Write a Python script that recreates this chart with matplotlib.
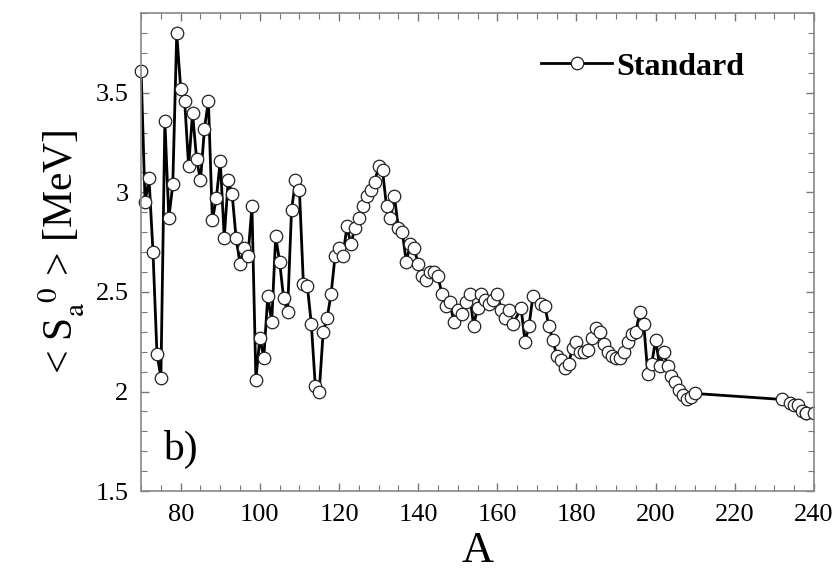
import numpy as np
import matplotlib
matplotlib.use("Agg")
import matplotlib.pyplot as plt
from matplotlib.ticker import MultipleLocator

plt.rcParams['font.family'] = ['Liberation Serif', 'DejaVu Serif']
plt.rcParams['mathtext.fontset'] = 'stix'

# mass number A and average alpha separation energy <S_a^0> (MeV)
mass_a = [70, 71, 72, 73, 74, 75, 76, 77, 78, 79,
          80, 81, 82, 83, 84, 85, 86, 87, 88, 89,
          90, 91, 92, 93, 94, 95, 96, 97, 98, 99,
          100, 101, 102, 103, 104, 105, 106, 107, 108, 109,
          110, 111, 112, 113, 114, 115, 116, 117, 118, 119,
          120, 121, 122, 123, 124, 125, 126, 127, 128, 129,
          130, 131, 132, 133, 134, 135, 136, 137, 138, 139,
          140, 141, 142, 143, 144, 145, 146, 147, 148, 149,
          150, 151, 152, 153, 154, 155, 156, 157, 158, 159,
          160, 161, 162, 163, 164, 166, 167, 168, 169,
          171, 172, 173, 174, 175, 176, 177, 178, 179,
          180, 181, 182, 183, 184, 185, 186, 187, 188, 189,
          190, 191, 192, 193, 194, 195, 196, 197, 198, 199,
          200, 201, 202, 203, 204, 205, 206, 207, 208, 209,
          210, 232, 234, 235, 236, 237, 238, 240]
s_alpha = [3.61, 2.95, 3.07, 2.70, 2.19, 2.07, 3.36, 2.87, 3.04, 3.80,
           3.52, 3.46, 3.13, 3.40, 3.17, 3.06, 3.32, 3.46, 2.86, 2.97,
           3.16, 2.77, 3.06, 2.99, 2.77, 2.64, 2.72, 2.68, 2.93, 2.06,
           2.27, 2.17, 2.48, 2.35, 2.78, 2.65, 2.47, 2.40, 2.91, 3.06,
           3.01, 2.54, 2.53, 2.34, 2.03, 2.00, 2.30, 2.37, 2.49, 2.68,
           2.72, 2.68, 2.83, 2.74, 2.82, 2.87, 2.93, 2.98, 3.01, 3.05,
           3.13, 3.11, 2.93, 2.87, 2.98, 2.82, 2.80, 2.65, 2.74, 2.72,
           2.64, 2.58, 2.56, 2.60, 2.60, 2.58, 2.49, 2.43, 2.45, 2.35,
           2.41, 2.39, 2.45, 2.49, 2.33, 2.42, 2.49, 2.46, 2.44, 2.46,
           2.49, 2.41, 2.37, 2.41, 2.34, 2.42, 2.25, 2.33, 2.48,
           2.44, 2.43, 2.33, 2.26, 2.18, 2.16, 2.12, 2.14, 2.22,
           2.25, 2.20, 2.20, 2.21, 2.27, 2.32, 2.30, 2.24, 2.20, 2.18,
           2.17, 2.17, 2.20, 2.25, 2.29, 2.30, 2.40, 2.34, 2.09, 2.14,
           2.26, 2.13, 2.20, 2.13, 2.08, 2.05, 2.01, 1.98, 1.96, 1.97,
           1.99, 1.96, 1.94, 1.93, 1.93, 1.90, 1.89, 1.89]

fig = plt.figure(figsize=(8.4, 5.73), dpi=100)
ax = fig.add_axes([0.168, 0.143, 0.801, 0.834])

# first points may stick out of the frame, the last one is cut by the right spine
ax.plot(mass_a[:-1], s_alpha[:-1], color='black', lw=2.0, marker='o', ms=9,
        mfc='white', mec='#222222', mew=0.9, label='Standard', clip_on=False)
ax.plot(mass_a[-2:], s_alpha[-2:], color='black', lw=2.0, marker='o', ms=9,
        mfc='white', mec='#222222', mew=0.9)

ax.set_xlim(70, 240)
ax.set_ylim(1.5, 3.9)
ax.xaxis.set_major_locator(MultipleLocator(20))
ax.xaxis.set_minor_locator(MultipleLocator(5))
ax.yaxis.set_major_locator(MultipleLocator(0.5))
ax.yaxis.set_minor_locator(MultipleLocator(0.1))
ax.yaxis.set_major_formatter(matplotlib.ticker.FuncFormatter(lambda v, p: f"{v:g}"))

ax.tick_params(which='both', direction='in', top=True, right=True, color='#777777')
ax.tick_params(which='major', length=6, width=1.0, labelsize=19, pad=9)
ax.tick_params(which='minor', length=4, width=0.8)
for sp in ax.spines.values():
    sp.set_color('#888888')
    sp.set_linewidth(1.2)

ax.set_xlabel('A', fontsize=32, labelpad=4)
ax.set_ylabel(r'< S$_{\rm a}^{\ \ 0}$ > [MeV]', fontsize=30, labelpad=6)

ax.text(0.033, 0.065, 'b)', transform=ax.transAxes, fontsize=30, va='baseline')

leg = ax.legend(loc='upper right', bbox_to_anchor=(0.93, 0.965), frameon=False,
                prop={'weight': 'bold', 'size': 23}, handlelength=2.2,
                handletextpad=0.15, borderaxespad=0.3)

fig.savefig('out.png', dpi=100)
